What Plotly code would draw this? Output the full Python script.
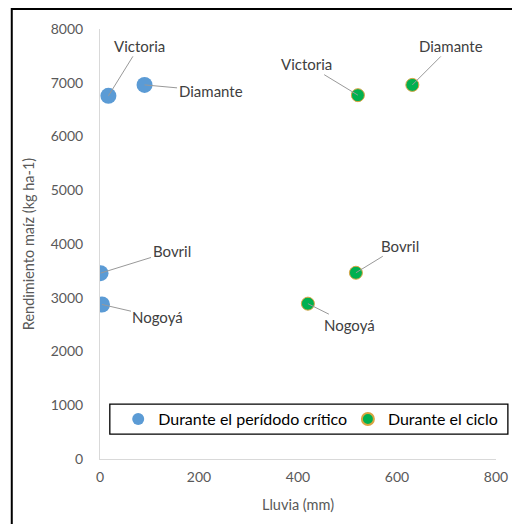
import plotly.graph_objects as go

# Data
sites = ["Victoria", "Diamante", "Bovril", "Nogoyá"]
lluvia_critico = [17, 90, 1, 4]
rend_critico = [6756, 6960, 3458, 2875]
lluvia_ciclo = [521, 631, 517, 420]
rend_ciclo = [6769, 6960, 3465, 2890]

series_names = ["Durante el perídodo crítico", "Durante el ciclo"]
x_ticks = [0, 200, 400, 600, 800]
y_ticks = [0, 1000, 2000, 3000, 4000, 5000, 6000, 7000, 8000]

FONT = "Lato"
TICK_COLOR = "#595959"
LABEL_COLOR = "#404040"
LEADER = "#999999"

fig = go.Figure()
fig.add_trace(go.Scatter(
    x=lluvia_critico, y=rend_critico, mode="markers", name=series_names[0],
    marker=dict(size=16, color="#5B9BD5", line=dict(width=0)), legend="legend",
))
fig.add_trace(go.Scatter(
    x=lluvia_ciclo, y=rend_ciclo, mode="markers", name=series_names[1],
    marker=dict(size=13, color="#00B050", line=dict(width=1, color="#D9A441")), legend="legend2",
))

# label offsets (pixels) for leader-line annotations
off_critico = [(31, -50), (66, 6), (71, -22), (56, 13)]
off_ciclo = [(-51, -31), (39, -39), (44, -27), (42, 21)]

annotations = []
for xs, ys, offs in [(lluvia_critico, rend_critico, off_critico),
                     (lluvia_ciclo, rend_ciclo, off_ciclo)]:
    for name, xv, yv, (ax, ay) in zip(sites, xs, ys, offs):
        annotations.append(dict(
            x=xv, y=yv, xref="x", yref="y", text=name,
            showarrow=True, arrowhead=0, arrowwidth=1, arrowcolor=LEADER,
            ax=ax, ay=ay, font=dict(family=FONT, size=15, color=LABEL_COLOR),
            borderpad=1,
        ))

legend_common = dict(
    orientation="h", yanchor="middle", y=0.0928, xanchor="left",
    borderwidth=0, bgcolor="rgba(0,0,0,0)",
    font=dict(family=FONT, size=16, color="#000000"),
    itemsizing="constant",
)

fig.update_layout(
    width=512, height=516,
    margin=dict(l=92, r=16, t=20, b=65),
    paper_bgcolor="white", plot_bgcolor="white",
    font=dict(family=FONT, color=TICK_COLOR),
    annotations=annotations,
    showlegend=True,
    legend=dict(x=0.046, **legend_common),
    legend2=dict(x=0.626, **legend_common),
    shapes=[
        # outer chart frame (right/bottom edges fall outside the picture)
        dict(type="rect", xref="paper", yref="paper",
             x0=-0.2228, x1=1.08, y0=-0.20, y1=1.0464,
             line=dict(color="#000000", width=2), fillcolor="rgba(0,0,0,0)",
             layer="below"),
        # legend frame
        dict(type="rect", xref="paper", yref="paper",
             x0=0.0248, x1=1.030, y0=0.058, y1=0.1276,
             line=dict(color="#000000", width=1.3), fillcolor="white",
             layer="below"),
    ],
)

fig.update_xaxes(
    range=[0, 800], tickvals=x_ticks, ticktext=[str(v) for v in x_ticks],
    showgrid=False, zeroline=False, showline=True, linecolor="#D9D9D9", linewidth=1,
    ticks="", tickfont=dict(family=FONT, size=14, color=TICK_COLOR), ticklabelstandoff=5,
    title=dict(text="Lluvia (mm)", font=dict(family=FONT, size=14.5, color=TICK_COLOR), standoff=16),
)
fig.update_yaxes(
    range=[0, 8000], tickvals=y_ticks, ticktext=[str(v) for v in y_ticks],
    showgrid=False, zeroline=False, showline=True, linecolor="#D9D9D9", linewidth=1,
    ticks="", tickfont=dict(family=FONT, size=14, color=TICK_COLOR), ticklabelstandoff=13,
    title=dict(text="Rendimiento maíz (kg ha-1)", font=dict(family=FONT, size=14.5, color=TICK_COLOR), standoff=12),
)

fig.write_html("out.html")
